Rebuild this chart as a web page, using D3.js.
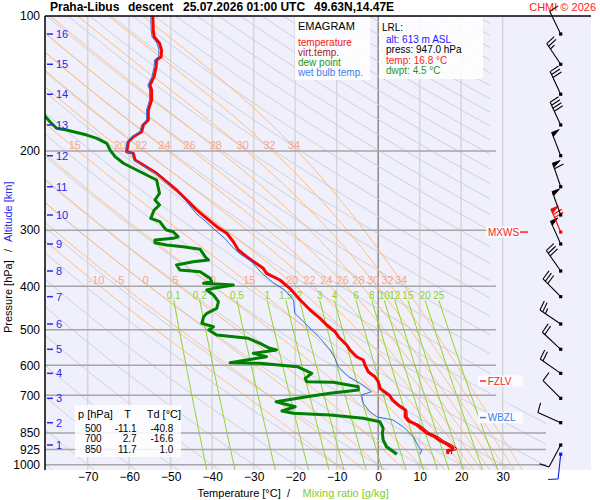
<!DOCTYPE html>
<html>
<head>
<meta charset="utf-8">
<script src="https://cdn.jsdelivr.net/npm/d3@7"></script>
<style>
body{margin:0;background:#fff;}
text{font-family:"Liberation Sans",Arial,sans-serif;}
</style>
</head>
<body>
<div id="chart"></div>
<script>
// ---- sounding data ----
const tempP = [100,107.4,111.2,115,119.1,123.2,125.3,129.7,136.5,142.5,146.2,153.9,162,170.5,174.9,181.1,185.8,190.6,200.6,202.3,209.4,214.8,224.1,234,244.2,257,270.6,282.4,294.8,304.9,318.4,332.2,343.8,364.9,374.4,387.5,404.4,429.4,452,471.7,488.2,505.2,518.3,540.9,554.9,574.4,584.1,599.3,620.3,636.4,653,675.5,693,700,714.7,735.9,755,781.4,798.8,815.4,850,862.7,883.9,903.5,919,927,930,947];
const tempT = [-54.3,-54.2,-54.0,-52.7,-52.2,-52.3,-53.4,-53.5,-54.0,-55.0,-54.6,-54.6,-55.4,-55.4,-56.6,-57.0,-59.0,-60.2,-60.6,-59.0,-58.6,-56.6,-53.4,-51.0,-48.6,-46.1,-43.7,-41.3,-38.9,-36.5,-34.9,-33.7,-31.7,-27.7,-26.9,-23.7,-21.3,-18.8,-16.4,-14.0,-12.4,-10.4,-9.6,-7.6,-6.8,-5.2,-3.6,-3.2,-2.4,-0.8,0.0,0.4,2.0,2.7,3.3,4.8,6.5,6.5,7.3,9.3,11.7,13.3,14.9,16.9,18.0,17.7,16.7,16.8];

const virtP = [505.2,518.3,540.9,554.9,574.4,584.1,599.3,620.3,636.4,653,675.5,693,700,714.7,735.9,755,781.4,798.8,815.4,850,862.7,883.9,903.5,919,927,930,947];
const virtT = [-10.3,-9.5,-7.5,-6.7,-5.1,-3.5,-3.0,-2.2,-0.6,0.2,0.7,2.3,3.0,3.6,5.2,6.9,7.0,7.9,10.0,12.5,14.1,15.8,17.8,18.9,18.6,17.6,17.7];

const dewP = [166.1,172,177.9,179.5,184.2,187.3,192.2,198.9,205.8,212.9,220.4,226.1,232,248.4,257,263.7,270.6,282.4,287.3,297.2,299.8,302.4,310.3,312.9,315.6,320,323.8,326.6,331,343.8,349.7,352.8,358.8,368.1,371.3,384.1,390.9,394.1,397.6,404.4,407.9,418.5,433.1,448,459.7,468.5,483.9,492.4,500.8,513.8,522.6,536.2,550.1,554.9,564.4,574.4,584.1,592.3,594.2,604.6,625.5,641.7,653,655,670,681.4,693,705.2,723.6,742.3,758.9,767.9,774.6,787.8,801.7,829.3,850.8,880.6,911.4,947];
const dewT = [-80.5,-79.1,-77.5,-75.1,-70.2,-67.8,-65.4,-64.6,-63.4,-61.4,-58.2,-55.8,-53.4,-52.7,-53.8,-52.7,-54.0,-54.8,-52.6,-51.4,-51.0,-49.4,-48.2,-49.4,-53.8,-53.8,-51.0,-47.0,-42.9,-41.7,-40.9,-44.6,-48.6,-47.8,-42.9,-40.5,-40.1,-42.1,-34.9,-39.7,-41.3,-39.7,-38.5,-38.9,-41.3,-42.1,-42.5,-39.7,-40.8,-38.9,-31.3,-28.5,-26.1,-24.5,-30.1,-26.9,-31.7,-35.7,-28.5,-19.5,-16.0,-17.6,-17.2,-10.8,-4.8,-4.8,-11.6,-17.2,-24.6,-20.0,-23.2,-20.5,-11.6,-3.6,0.4,1.2,1.0,1.2,2.0,4.5];

const wetP = [100,107.4,111.2,115,119.1,123.2,125.3,129.7,136.5,142.5,146.2,153.9,162,170.5,174.9,181.1,185.8,190.6,200.6,202.3,209.4,214.8,224.1,234,244.2,257,275.2,287.3,299.8,312.9,326.6,337.9,352.8,374.4,390.9,407.9,429.4,459.7,483.9,505.2,527.2,554.9,579.1,604.6,636.4,658.4,687.3,699.1,729.5,761.7,781.4,794.8,822.5,865.8,911.4,927,947];
const wetT = [-54.8,-54.7,-54.5,-53.3,-52.8,-52.9,-53.9,-54.0,-54.5,-55.5,-55.1,-55.1,-55.8,-55.8,-57.0,-57.4,-59.3,-60.5,-60.9,-59.3,-58.9,-56.9,-53.7,-51.3,-48.9,-46.5,-43.9,-41.5,-39.3,-37.0,-35.2,-33.5,-30.5,-28.0,-25.6,-22.5,-20.4,-20.1,-17.6,-15.6,-13.6,-11.6,-10.4,-9.6,-7.2,-4.4,-1.6,-4.0,-3.6,-2.0,-0.4,3.6,6.0,8.5,9.7,10.5,10.1];

// altitude scale (km) and the pressure where each tick sits
const altKm = [1,2,3,4,5,6,7,8,9,10,11,12,13,14,15,16];
const altP  = [903.5,805.8,711,625.5,552.9,485.6,422,370,322.1,277.6,240.1,204.8,174.9,149.4,128.1,109.7];

// wind barbs
const windP   = [947,903.5,805.8,711,625.5,552.9,485.6,422,370,322.1,303,277.6,240.1,204.8,174.9,149.4,128.1,109.7];
const windDir = [186,208,294,315,305,313,304,315,325,336,337,340,341,339,335,335,326,334];
const windSpd = [10,10,10,10,20,20,25,30,30,50,70,50,60,50,40,30,25,10];
const windKind = ["sfc","","","","","","","","","","max","","","","","","",""];

// special levels
const levelName = ["MXWS","FZLV","WBZL"];
const levelP = [303,650.5,785];

// table
const tabP = [500,700,850];
const tabT = [-11.1,2.7,11.7];
const tabTd = [-40.8,-16.6,1.0];

// axes
const pTicks = [100,200,300,400,500,600,700,850,925,1000];
const tTicks = [-70,-60,-50,-40,-30,-20,-10,0,10,20,30];
const thetaW = [-10,-5,0,5,10,15,20,22,24,26,28,30,32,34];
const mixRatio = [0.1,0.2,0.5,1,1.5,2,3,4,6,8,10,12,15,20,25];

const W = 600, H = 500;
const svg = d3.select("#chart").append("svg").attr("width", W).attr("height", H);

const x = d3.scaleLinear().domain([-70, 30]).range([87.7, 502.7]);
const y = d3.scaleLog().domain([100, 1000]).range([16, 464.8]);
const plotL = 45, plotT = 16, plotB = 470, plotR = 591;

//background
svg.append("rect").attr("x", plotL).attr("y", plotT)
    .attr("width", plotR - plotL).attr("height", plotB - plotT)
    .attr("fill", "#f0f0fd");

//isotherms
svg.append("g").selectAll("line").data(tTicks).enter().append("line")
    .attr("x1", d => x(d)).attr("x2", d => x(d))
    .attr("y1", plotT).attr("y2", plotB)
    .attr("stroke", d => d === 0 ? "#8a8a8a" : "#d6d6da")
    .attr("stroke-width", 1.5);

//clip for the thermodynamic lines
svg.append("clipPath").attr("id", "iso")
    .append("polygon")
    .attr("points", `${plotL},${plotT} 490,${plotT} 490,395 546,420 546,${plotB} ${plotL},${plotB}`);
const iso = svg.append("g").attr("clip-path", "url(#iso)");

const line = d3.line().x(d => x(d[1])).y(d => y(d[0]));

//dry adiabats
const dryTheta = d3.range(-80, 320, 10);
const pSteps = d3.range(100, 1051, 10);
iso.selectAll(".dry").data(dryTheta).enter().append("path")
    .attr("d", th => line(pSteps.map(p => [p, (th + 273.15) * Math.pow(p / 1000, 0.2857) - 273.15])))
    .attr("fill", "none").attr("stroke", "#cfcfd4").attr("stroke-width", 1);

//pseudo adiabats
function dTdp(p, T) {
    const tc = T - 273.15;
    const es = 6.112 * Math.exp(17.67 * tc / (tc + 243.5));
    const rs = 0.622 * es / (p - es);
    const Rd = 287.04, cp = 1005.7, L = 2.501e6;
    return (Rd * T + L * rs) / (p * (cp + L * L * rs * 0.622 / (Rd * T * T)));
}
function rk(p, T, dp) {
    const k1 = dTdp(p, T);
    const k2 = dTdp(p + dp / 2, T + k1 * dp / 2);
    const k3 = dTdp(p + dp / 2, T + k2 * dp / 2);
    const k4 = dTdp(p + dp, T + k3 * dp);
    return T + dp * (k1 + 2 * k2 + 2 * k3 + k4) / 6;
}
const moist = thetaW.map(tw => {
    const up = [], down = [];
    let T = tw + 273.15;
    for (let i = 0; i <= 450; i++) {
        const p = 1000 - 2 * i;
        up.push([p, T - 273.15]);
        T = rk(p, T, -2);
    }
    T = tw + 273.15;
    for (let i = 1; i <= 25; i++) {
        T = rk(1000 + 2 * (i - 1), T, 2);
        down.push([1000 + 2 * i, T - 273.15]);
    }
    return {tw, pts: down.reverse().concat(up)};
});
iso.selectAll(".moist").data(moist).enter().append("path")
    .attr("d", d => line(d.pts))
    .attr("fill", "none").attr("stroke", "#ffbb74").attr("stroke-width", 1);

//mixing ratio lines
function tdFromE(e) {
    const l = Math.log(e / 6.112);
    return 243.5 * l / (17.67 - l);
}
const mixP = d3.range(430, 1041, 10);
iso.selectAll(".mix").data(mixRatio).enter().append("path")
    .attr("d", w => line(mixP.map(p => [p, tdFromE(w * p / (622 + w))])))
    .attr("fill", "none").attr("stroke", "#8fd41c").attr("stroke-width", 1);

//isobars
svg.append("g").selectAll("line").data(pTicks.slice(1)).enter().append("line")
    .attr("x1", plotL).attr("x2", d => d >= 850 ? 546 : 496)
    .attr("y1", d => y(d)).attr("y2", d => y(d))
    .attr("stroke", "#a6a6a6").attr("stroke-width", 1.5);

//pseudo adiabat labels
[400, 200].forEach(lev => {
    svg.append("g").selectAll("text")
        .data(moist.map(m => ({tw: m.tw, t: m.pts.find(q => q[0] === lev)[1]})).filter(d => x(d.t) > 60))
        .enter().append("text")
        .attr("x", d => x(d.t) - 3.5).attr("y", y(lev) - 2)
        .attr("text-anchor", "middle").attr("font-size", "11px")
        .attr("fill", "#f7a688").text(d => d.tw);
});

//mixing ratio labels
svg.append("g").selectAll("text").data(mixRatio).enter().append("text")
    .attr("x", w => x(tdFromE(w * 430 / (622 + w))))
    .attr("y", y(430) - 1.5)
    .attr("text-anchor", "middle").attr("font-size", "10px")
    .attr("fill", "#8fd41c").text(d => d);

//profiles
const prof = (P, T) => line(P.map((p, i) => [p, T[i]]));
svg.append("clipPath").attr("id", "plot").append("rect")
    .attr("x", plotL).attr("y", plotT).attr("width", plotR - plotL).attr("height", plotB - plotT);
const pg = svg.append("g").attr("clip-path", "url(#plot)");
pg.append("path").attr("d", prof(virtP, virtT)).attr("fill", "none")
    .attr("stroke", "#a80000").attr("stroke-width", 1);
pg.append("path").attr("d", prof(tempP, tempT)).attr("fill", "none")
    .attr("stroke", "#ff0000").attr("stroke-width", 3).attr("stroke-linejoin", "round");
pg.append("path").attr("d", prof(dewP, dewT)).attr("fill", "none")
    .attr("stroke", "#008000").attr("stroke-width", 3).attr("stroke-linejoin", "round");
pg.append("path").attr("d", prof(wetP, wetT)).attr("fill", "none")
    .attr("stroke", "#2a6ee0").attr("stroke-width", 1);

//axes frame
svg.append("line").attr("x1", plotL).attr("x2", plotR).attr("y1", plotT).attr("y2", plotT)
    .attr("stroke", "#000").attr("stroke-width", 1.5);
svg.append("line").attr("x1", plotL).attr("x2", plotL).attr("y1", plotT).attr("y2", plotB)
    .attr("stroke", "#000").attr("stroke-width", 1.5);

const yAxis = svg.append("g").attr("transform", `translate(${plotL},0)`)
    .call(d3.axisLeft(y).tickValues(pTicks).tickFormat(d3.format("d")).tickSize(0).tickPadding(5));
yAxis.select(".domain").remove();
yAxis.selectAll("text").attr("font-size", "12px").attr("fill", "#000")
    .attr("font-family", "'Liberation Sans',Arial,sans-serif");

const xAxis = svg.append("g").attr("transform", `translate(0,${plotB})`)
    .call(d3.axisBottom(x).tickValues(tTicks).tickFormat(d3.format("d")).tickSize(0).tickPadding(2));
xAxis.select(".domain").remove();
xAxis.selectAll("text").attr("font-size", "12px").attr("fill", "#000")
    .attr("font-family", "'Liberation Sans',Arial,sans-serif");

//altitude ticks
const alt = svg.append("g");
altKm.forEach((k, i) => {
    alt.append("line").attr("x1", 47).attr("x2", 53).attr("y1", y(altP[i])).attr("y2", y(altP[i]))
        .attr("stroke", "#2828e8").attr("stroke-width", 1.5);
    alt.append("text").attr("x", 56).attr("y", y(altP[i]) + 4)
        .attr("font-size", "11px").attr("fill", "#2828e8").text(k);
});

//title
const title = svg.append("g").attr("font-size", "12px").attr("font-weight", "bold");
title.append("text").attr("x", 50).attr("y", 11).text("Praha-Libus");
title.append("text").attr("x", 128).attr("y", 11).text("descent");
title.append("text").attr("x", 183).attr("y", 11).text("25.07.2026 01:00 UTC");
title.append("text").attr("x", 314).attr("y", 11).text("49.63N,14.47E");
svg.append("text").attr("x", 596).attr("y", 11).attr("text-anchor", "end")
    .attr("font-size", "11px").attr("fill", "#ff2020").text("CHMI © 2026");

//axis titles
svg.append("text").attr("x", 197.5).attr("y", 497).attr("font-size", "11px").text("Temperature [°C]");
svg.append("text").attr("x", 287).attr("y", 497).attr("font-size", "11px").text("/");
svg.append("text").attr("x", 302.5).attr("y", 497).attr("font-size", "11px").attr("fill", "#86cc1e")
    .text("Mixing ratio [g/kg]");
const yt = svg.append("g").attr("transform", "translate(12,333) rotate(-90)").attr("font-size", "11px");
yt.append("text").attr("x", 0).attr("y", 0).text("Pressure [hPa]");
yt.append("text").attr("x", 81).attr("y", 0).text("/");
yt.append("text").attr("x", 91).attr("y", 0).attr("fill", "#2828e8").text("Altitude [km]");

//legend box
svg.append("rect").attr("x", 295).attr("y", 17).attr("width", 75).attr("height", 63)
    .attr("fill", "#fff").attr("fill-opacity", 0.85);
svg.append("text").attr("x", 298).attr("y", 29.5).attr("font-size", "11px").text("EMAGRAM");
const legNames = ["temperature","virt.temp.","dew point","wet bulb temp."];
const legColors = ["#ff1010","#a81818","#1e961e","#3a80f0"];
svg.append("g").selectAll("text").data(legNames).enter().append("text")
    .attr("x", 298).attr("y", (d, i) => 46 + i * 10)
    .attr("font-size", "10px").attr("fill", (d, i) => legColors[i]).text(d => d);

//lowest reported level box
svg.append("rect").attr("x", 379).attr("y", 17).attr("width", 104).attr("height", 62)
    .attr("fill", "#fff").attr("fill-opacity", 0.85);
svg.append("text").attr("x", 382).attr("y", 31).attr("font-size", "10px").text("LRL:");
const lrlText = ["alt: 613 m ASL","press: 947.0 hPa","temp: 16.8 °C","dwpt: 4.5 °C"];
const lrlColors = ["#1a1aff","#000","#ff1a1a","#1e961e"];
svg.append("g").selectAll("text").data(lrlText).enter().append("text")
    .attr("x", 386).attr("y", (d, i) => 43 + i * 10.3)
    .attr("font-size", "10px").attr("fill", (d, i) => lrlColors[i]).text(d => d);

//table box
svg.append("rect").attr("x", 75).attr("y", 405).attr("width", 106).attr("height", 52)
    .attr("fill", "#fff").attr("fill-opacity", 0.85);
const tb = svg.append("g").attr("font-size", "11px");
tb.append("text").attr("x", 78).attr("y", 418).text("p [hPa]");
tb.append("text").attr("x", 127.7).attr("y", 418).attr("text-anchor", "middle").text("T");
tb.append("text").attr("x", 146.7).attr("y", 418).text("Td [°C]");
tabP.forEach((p, i) => {
    const yy = 432 + i * 10.4;
    const row = tb.append("g").attr("font-size", "10px");
    row.append("text").attr("x", 101.7).attr("y", yy).attr("text-anchor", "end").text(p);
    row.append("text").attr("x", 136.7).attr("y", yy).attr("text-anchor", "end").text(tabT[i].toFixed(1));
    row.append("text").attr("x", 173.3).attr("y", yy).attr("text-anchor", "end").text(tabTd[i].toFixed(1));
});

//special levels
const lvColors = ["#ff2020","#ff2020","#3a80f0"];
levelName.forEach((n, i) => {
    const yy = y(levelP[i]);
    const g = svg.append("g");
    if (n === "MXWS") {
        g.append("rect").attr("x", 486).attr("y", yy - 5.5).attr("width", 33).attr("height", 11)
            .attr("fill", "#fff").attr("fill-opacity", 0.8);
        g.append("text").attr("x", 488).attr("y", yy + 3.6).attr("font-size", "10px")
            .attr("fill", lvColors[i]).text(n);
        g.append("line").attr("x1", 520).attr("x2", 528).attr("y1", yy).attr("y2", yy)
            .attr("stroke", lvColors[i]).attr("stroke-width", 1.5);
    } else {
        g.append("rect").attr("x", 478).attr("y", yy - 5.5).attr("width", 45).attr("height", 11)
            .attr("fill", "#fff").attr("fill-opacity", 0.8);
        g.append("line").attr("x1", 480).attr("x2", 486).attr("y1", yy).attr("y2", yy)
            .attr("stroke", lvColors[i]).attr("stroke-width", 1.5);
        g.append("text").attr("x", 487.7).attr("y", yy + 3.6).attr("font-size", "10px")
            .attr("fill", lvColors[i]).text(n);
    }
});

//wind barbs
const barbs = svg.append("g");
const bx = 560.7, staff = 25;
windP.forEach((p, i) => {
    const color = windKind[i] === "sfc" ? "#0a1ae8" : windKind[i] === "max" ? "#ff0000" : "#000";
    const cy = y(p);
    const a = windDir[i] * Math.PI / 180;
    const ux = Math.sin(a), uy = -Math.cos(a);
    const px = -uy, py = ux;
    const ex = bx + staff * ux, ey = cy + staff * uy;
    const g = barbs.append("g").attr("stroke", color).attr("fill", color).attr("stroke-width", 1.1);
    g.append("line").attr("x1", bx).attr("y1", cy).attr("x2", ex).attr("y2", ey);
    g.append("rect").attr("x", bx - 1.6).attr("y", cy - 1.6).attr("width", 3.2).attr("height", 3.2)
        .attr("stroke", "none");
    let rem = Math.round(windSpd[i] / 5) * 5, pos = 0;
    while (rem >= 50) {
        const ax = ex - ux * pos, ay = ey - uy * pos;
        const bx2 = ex - ux * (pos + 4.5), by2 = ey - uy * (pos + 4.5);
        g.append("polygon").attr("points",
            `${ax},${ay} ${ax + px * 8},${ay + py * 8} ${bx2},${by2}`).attr("stroke-width", 0.8);
        rem -= 50; pos += 6;
    }
    while (rem >= 10) {
        const sx = ex - ux * pos, sy = ey - uy * pos;
        g.append("line").attr("x1", sx).attr("y1", sy)
            .attr("x2", sx + px * 10 + ux * 1.5).attr("y2", sy + py * 10 + uy * 1.5);
        rem -= 10; pos += 3.3;
    }
    if (rem >= 5) {
        if (pos === 0) pos = 3.3;
        const sx = ex - ux * pos, sy = ey - uy * pos;
        g.append("line").attr("x1", sx).attr("y1", sy)
            .attr("x2", sx + px * 5.5 + ux * 1).attr("y2", sy + py * 5.5 + uy * 1);
    }
});
</script>
</body>
</html>
